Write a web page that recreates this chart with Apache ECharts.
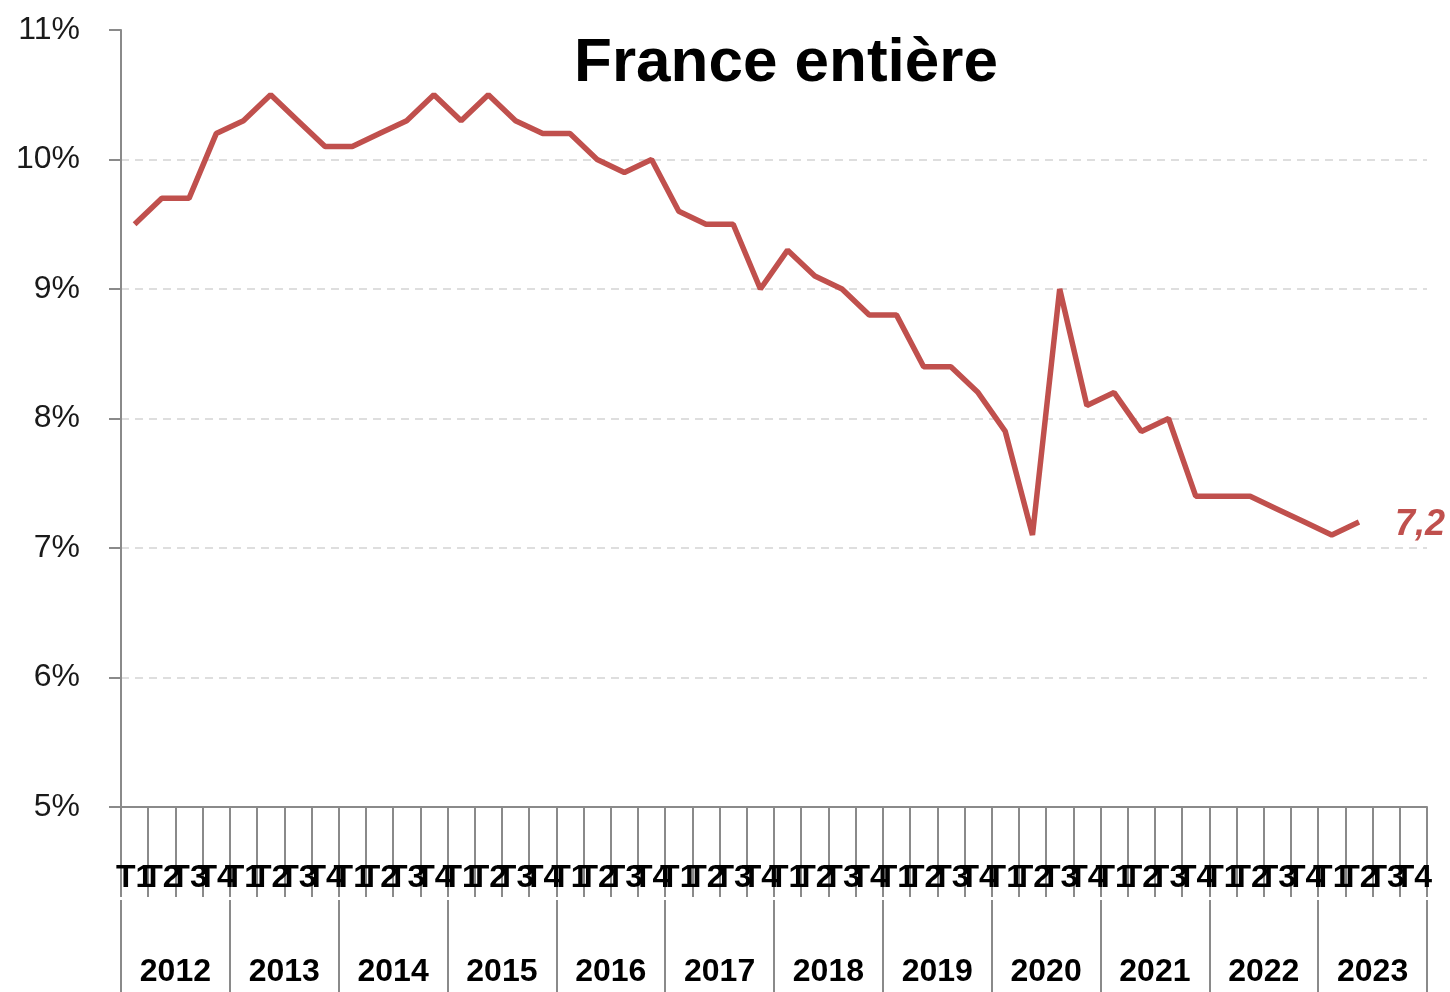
<!DOCTYPE html>
<html>
<head>
<meta charset="utf-8">
<script src="https://cdn.jsdelivr.net/npm/echarts@6/dist/echarts.min.js"></script>
<style>
  html, body { margin: 0; padding: 0; background: #fff; }
  #chart { width: 1450px; height: 992px; }
</style>
</head>
<body>
<div id="chart"></div>
<script>
const years = ['2012', '2013', '2014', '2015', '2016', '2017', '2018', '2019', '2020', '2021', '2022', '2023']
const quarters = ['T1', 'T2', 'T3', 'T4']
// taux de chômage, %
const taux = [
    9.5, 9.7, 9.7, 10.2,
    10.3, 10.5, 10.3, 10.1,
    10.1, 10.2, 10.3, 10.5,
    10.3, 10.5, 10.3, 10.2,
    10.2, 10.0, 9.9, 10.0,
    9.6, 9.5, 9.5, 9.0,
    9.3, 9.1, 9.0, 8.8,
    8.8, 8.4, 8.4, 8.2,
    7.9, 7.1, 9.0, 8.1,
    8.2, 7.9, 8.0, 7.4,
    7.4, 7.4, 7.3, 7.2,
    7.1, 7.2, null, null
]
const yTicks = { min: 5, max: 11, step: 1 }

const quarterCats = []
years.forEach(y => {
    quarters.forEach(q => quarterCats.push(q))
})

const axisGray = '#8a8a8a'

const option = {
    animation: false,
    title: {
        text: 'France entière',
        left: 781,
        textAlign: 'center',
        top: 28,
        textStyle: {
            fontFamily: 'Liberation Sans',
            fontSize: 62,
            fontWeight: 'bold',
            color: '#000'
        }
    },
    grid: {
        left: 121,
        right: 23,
        top: 30,
        bottom: 185,
        containLabel: false
    },
    xAxis: [
        {
            type: 'category',
            data: quarterCats,
            boundaryGap: true,
            position: 'bottom',
            z: 3,
            axisLine: { show: true, lineStyle: { color: axisGray, width: 2 } },
            axisTick: { show: true, interval: 0, length: 90, lineStyle: { color: axisGray, width: 2 } },
            axisLabel: {
                interval: 0,
                margin: 55,
                fontFamily: 'Liberation Sans',
                fontSize: 32,
                fontWeight: 'bold',
                color: '#000'
            },
            splitLine: { show: false }
        },
        {
            type: 'category',
            data: years,
            boundaryGap: true,
            position: 'bottom',
            offset: 93,
            axisLine: { show: false },
            axisTick: { show: true, interval: 0, length: 95, lineStyle: { color: axisGray, width: 2 } },
            axisLabel: {
                interval: 0,
                margin: 56,
                fontFamily: 'Liberation Sans',
                fontSize: 32,
                fontWeight: 'bold',
                color: '#000'
            },
            splitLine: { show: false }
        }
    ],
    yAxis: {
        type: 'value',
        min: yTicks.min,
        max: yTicks.max,
        interval: yTicks.step,
        axisLine: { show: true, lineStyle: { color: axisGray, width: 2 } },
        axisTick: { show: true, length: 12, lineStyle: { color: axisGray, width: 2 } },
        axisLabel: {
            formatter: '{value}%',
            margin: 41,
            fontFamily: 'Liberation Sans',
            fontSize: 32,
            color: '#1a1a1a'
        },
        splitLine: {
            show: true,
            showMaxLine: false,
            showMinLine: false,
            lineStyle: { color: '#d4d4d4', width: 1.5, type: [8, 6] }
        }
    },
    series: [
        {
            name: 'France entière',
            type: 'line',
            xAxisIndex: 0,
            data: taux,
            showSymbol: false,
            symbol: 'none',
            connectNulls: false,
            lineStyle: { color: '#c0504d', width: 5.5 },
            itemStyle: { color: '#c0504d' },
            endLabel: {
                show: true,
                distance: 36,
                offset: [0, 3],
                color: '#c0504d',
                fontSize: 36,
                fontWeight: 'bold',
                fontStyle: 'italic',
                fontFamily: 'Liberation Sans',
                formatter: p => String(p.value).replace('.', ',')
            }
        }
    ]
}

let myChart = echarts.init(document.getElementById('chart'))
myChart.setOption(option)
</script>
</body>
</html>
